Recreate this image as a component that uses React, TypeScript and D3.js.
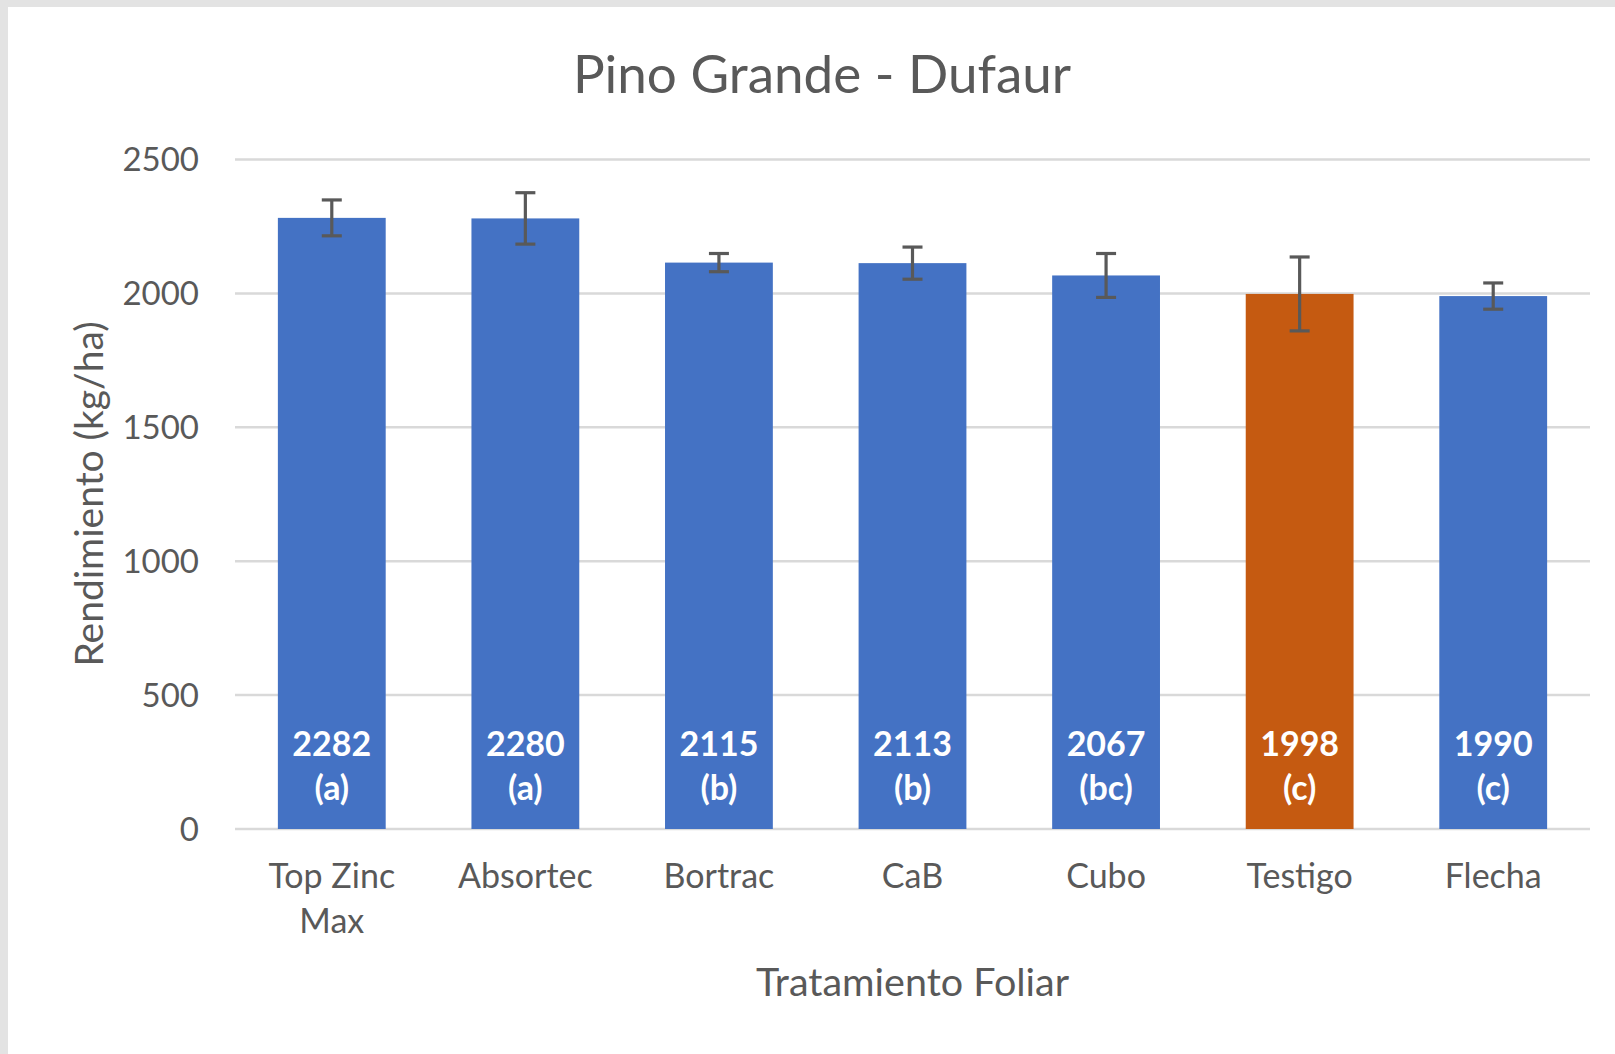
import React from "react";
import * as d3 from "d3";

const categories = ["Top Zinc Max", "Absortec", "Bortrac", "CaB", "Cubo", "Testigo", "Flecha"];
const values = [2282, 2280, 2115, 2113, 2067, 1998, 1990];
const errors = [67, 96, 34, 60, 82, 138, 49];
const groups = ["(a)", "(a)", "(b)", "(b)", "(bc)", "(c)", "(c)"];
const highlight = ["Testigo"];
const yTicks = [0, 500, 1000, 1500, 2000, 2500];

const W = 1615;
const H = 1054;
const FONT = "Lato, 'Open Sans', sans-serif";
const BLUE = "#4472C4";
const ORANGE = "#C55A11";
const GRID = "#d9d9d9";
const TEXT = "#595959";

function wrap(label: string, maxChars: number): string[] {
  const words = label.split(" ");
  const lines: string[] = [];
  let cur = "";
  for (const w of words) {
    const next = cur ? cur + " " + w : w;
    if (next.length > maxChars && cur) {
      lines.push(cur);
      cur = w;
    } else cur = next;
  }
  if (cur) lines.push(cur);
  return lines;
}

export default function App() {
  const left = 235;
  const right = 1590;
  const top = 159.5;
  const bottom = 829;

  const x = d3.scaleBand<string>().domain(categories).range([left, right]).paddingInner(0.443).paddingOuter(0.2215);
  const y = d3.scaleLinear().domain([0, 2500]).range([bottom, top]);
  const bw = x.bandwidth();
  const cap = 10;

  return (
    <svg width={W} height={H} style={{ position: "absolute", left: 0, top: 0 }} fontFamily={FONT}>
      <rect x={0} y={0} width={W} height={H} fill="#e3e3e3" />
      <rect x={8} y={7} width={W} height={H} fill="#ffffff" />

      <text x={822} y={93} textAnchor="middle" fontSize={53} fill={TEXT}>
        Pino Grande - Dufaur
      </text>

      {yTicks.map((t) => (
        <g key={t}>
          <line x1={left} x2={right} y1={y(t)} y2={y(t)} stroke={GRID} strokeWidth={2.5} />
          <text x={199} y={y(t)} dy="0.36em" textAnchor="end" fontSize={33} fill={TEXT}>
            {t}
          </text>
        </g>
      ))}

      {categories.map((c, i) => {
        const x0 = x(c)!;
        const cx = x0 + bw / 2;
        const v = values[i];
        const e = errors[i];
        return (
          <g key={c}>
            <rect x={x0} y={y(v)} width={bw} height={y(0) - y(v)} fill={highlight.includes(c) ? ORANGE : BLUE} />
            <line x1={cx} x2={cx} y1={y(v + e)} y2={y(v - e)} stroke={TEXT} strokeWidth={3.2} />
            <line x1={cx - cap} x2={cx + cap} y1={y(v + e)} y2={y(v + e)} stroke={TEXT} strokeWidth={3.2} />
            <line x1={cx - cap} x2={cx + cap} y1={y(v - e)} y2={y(v - e)} stroke={TEXT} strokeWidth={3.2} />
            <text x={cx} y={y(0) - 73} textAnchor="middle" fontSize={34} fontWeight="bold" fill="#ffffff">
              {v}
            </text>
            <text x={cx} y={y(0) - 29} textAnchor="middle" fontSize={34} fontWeight="bold" fill="#ffffff">
              {groups[i]}
            </text>
            {wrap(c, 8).map((ln, k) => (
              <text key={k} x={cx} y={888 + k * 45} textAnchor="middle" fontSize={34} fill={TEXT}>
                {ln}
              </text>
            ))}
          </g>
        );
      })}

      <text x={(left + right) / 2} y={996} textAnchor="middle" fontSize={39.5} fill={TEXT}>
        Tratamiento Foliar
      </text>
      <text
        transform={`translate(103, 494) rotate(-90)`}
        textAnchor="middle"
        fontSize={39}
        fill={TEXT}
      >
        Rendimiento (kg/ha)
      </text>
    </svg>
  );
}
